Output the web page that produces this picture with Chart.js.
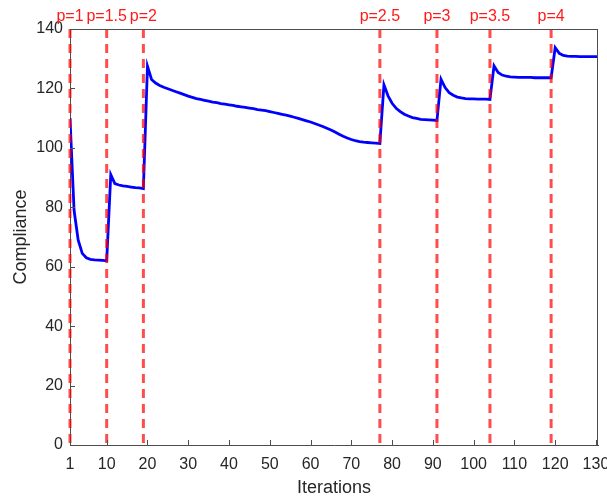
<!DOCTYPE html>
<html><head><meta charset="utf-8">
<script src="https://cdn.jsdelivr.net/npm/chart.js@4.4.1/dist/chart.umd.min.js"></script>
<style>html,body{margin:0;padding:0;background:#fff;overflow:hidden}
#clipbox{width:607px;height:499px;overflow:hidden;position:relative}
#wrap{width:640px;height:499px;position:relative}</style>
</head><body><div id="clipbox"><div id="wrap"><canvas id="c"></canvas></div></div>
<script>
// ---- data ----
const iterations = [1,2,3,4,5,6,7,8,9,10,11,12,13,14,15,16,17,18,19,20,21,22,23,24,25,26,27,28,29,30,
31,32,33,34,35,36,37,38,39,40,41,42,43,44,45,46,47,48,49,50,51,52,53,54,55,56,57,58,59,60,
61,62,63,64,65,66,67,68,69,70,71,72,73,74,75,76,77,78,79,80,81,82,83,84,85,86,87,88,89,90,
91,92,93,94,95,96,97,98,99,100,101,102,103,104,105,106,107,108,109,110,111,112,113,114,115,116,117,118,119,120,
121,122,123,124,125,126,127,128,129,130,131];
const compliance = [
110,79,69,64.5,63,62.5,62.3,62.2,62.1,62,        // 1-10
91,88,87.5,87.2,87,86.8,86.6,86.5,86.3,            // 11-19
127.5,123,121.8,121,120.4,119.9,119.4,118.9,118.4,117.9, // 20-29
117.4,117.0,116.6,116.3,116.0,115.7,115.4,115.2,114.9,114.7, // 30-39
114.5,114.3,114.0,113.8,113.6,113.4,113.2,112.9,112.7,112.5, // 40-49
112.2,111.9,111.6,111.3,111.0,110.7,110.3,109.9,109.5,109.1, // 50-59
108.7,108.2,107.7,107.2,106.6,106.0,105.3,104.6,103.9,103.3, // 60-69
102.8,102.4,102.1,101.9,101.8,101.7,101.6,101.5,            // 70-77
121.2,117.5,115,113.3,112.2,111.3,110.7,110.2,109.9,109.6,109.5,109.4,109.3,109.2, // 78-91
123.1,120.3,118.6,117.7,117.1,116.8,116.6,116.5,116.5,116.4,116.4,116.4,116.3, // 92-104
127.6,125.4,124.5,124.1,123.9,123.8,123.7,123.7,123.7,123.7,123.6,123.6,123.6,123.6,123.6, // 105-119
133.7,131.8,131.1,130.9,130.8,130.8,130.7,130.7,130.7,130.7,130.7,130.7 // 120-131
];
const switchIters = [1,10,19,77,91,104,119];
const switchLabels = ['p=1','p=1.5','p=2','p=2.5','p=3','p=3.5','p=4'];
const xTicks = [1,10,20,30,40,50,60,70,80,90,100,110,120,130];
const yTicks = [0,20,40,60,80,100,120,140];

const FONT = "'Liberation Sans', Arial, Helvetica, sans-serif";
const AXIS = '#4d4d4d';
const TXT = '#262626';

const redSets = switchIters.map(s => ({
  data: [{x: s, y: 140}, {x: s, y: 0}],
  borderColor: 'rgba(255,0,0,0.7)',
  borderWidth: 3,
  borderDash: [9, 6],
  pointRadius: 0,
  fill: false,
  clip: false
}));
const blueSet = {
  data: iterations.map((x, i) => ({x, y: compliance[i]})),
  borderColor: '#0000ff',
  borderWidth: 2.8,
  pointRadius: 0,
  tension: 0,
  fill: false
};

const decor = {
  id: 'decor',
  afterDraw(chart) {
    const ctx = chart.ctx;
    const xs = chart.scales.x, ys = chart.scales.y;
    const L = xs.left, R = xs.right, T = ys.top, B = ys.bottom;
    ctx.save();
    ctx.strokeStyle = AXIS; ctx.lineWidth = 1;
    ctx.beginPath();
    ctx.moveTo(L, Math.round(T) + 0.5); ctx.lineTo(R, Math.round(T) + 0.5);
    ctx.moveTo(Math.round(R) - 0.5, T); ctx.lineTo(Math.round(R) - 0.5, B);
    xTicks.forEach(v => { const px = Math.round(xs.getPixelForValue(v)) + 0.5; ctx.moveTo(px, B); ctx.lineTo(px, B - 5); });
    yTicks.forEach(v => { const py = Math.round(ys.getPixelForValue(v)) + 0.5; ctx.moveTo(L, py); ctx.lineTo(L + 5, py); });
    ctx.stroke();
    ctx.fillStyle = '#ff1a1a';
    ctx.font = '16px ' + FONT;
    ctx.textAlign = 'center'; ctx.textBaseline = 'alphabetic';
    switchIters.forEach((s, i) => ctx.fillText(switchLabels[i], xs.getPixelForValue(s), T - 8));
    ctx.restore();
  }
};

new Chart(document.getElementById('c'), {
  type: 'line',
  data: { datasets: [...redSets, blueSet] },
  options: {
    responsive: true, maintainAspectRatio: false, animation: false,
    layout: { padding: { top: 29, right: 42, left: 0, bottom: 0 } },
    plugins: { legend: { display: false }, tooltip: { enabled: false } },
    scales: {
      x: {
        type: 'linear', min: 1, max: 130.5,
        afterBuildTicks: s => { s.ticks = xTicks.map(v => ({value: v})); },
        afterFit: s => { s.height = 54; },
        grid: { display: false, drawTicks: false },
        border: { display: true, color: AXIS, width: 1 },
        ticks: { color: TXT, font: { family: FONT, size: 16 }, padding: 10, maxRotation: 0, autoSkip: false },
        title: { display: true, text: 'Iterations', color: TXT, font: { family: FONT, size: 18 }, padding: { top: 0, bottom: 0 } }
      },
      y: {
        type: 'linear', min: 0, max: 140,
        afterBuildTicks: s => { s.ticks = yTicks.map(v => ({value: v})); },
        afterFit: s => { s.width = 70; },
        grid: { display: false, drawTicks: false },
        border: { display: true, color: AXIS, width: 1 },
        ticks: { color: TXT, font: { family: FONT, size: 16 }, padding: 7 },
        title: { display: true, text: 'Compliance', color: TXT, font: { family: FONT, size: 18 }, padding: { top: 10, bottom: 0 } }
      }
    }
  },
  plugins: [decor]
});
</script></body></html>
